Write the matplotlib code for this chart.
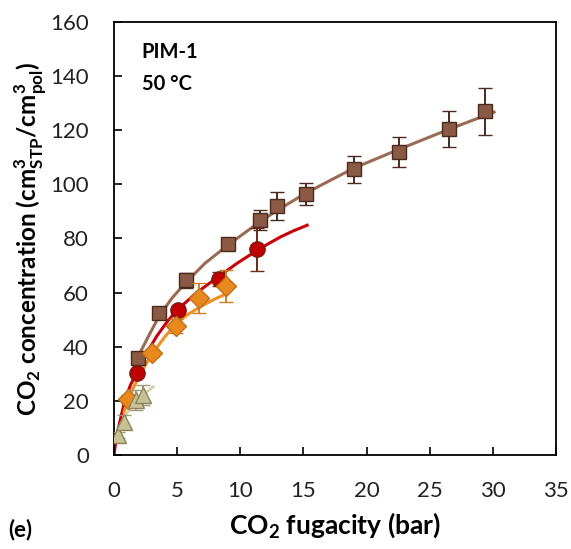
import matplotlib
matplotlib.use('Agg')
import matplotlib.pyplot as plt

plt.rcParams['font.family'] = ['Lato', 'DejaVu Sans']
plt.rcParams['mathtext.fontset'] = 'custom'
plt.rcParams['mathtext.rm'] = 'Lato'
plt.rcParams['mathtext.bf'] = 'Lato:bold'

# measured sorption points (fugacity in bar, concentration in cm3STP/cm3pol)
sq_x = [1.9, 3.6, 5.7, 9.0, 11.6, 12.9, 15.2, 19.0, 22.6, 26.5, 29.4]
sq_y = [36.0, 52.5, 64.5, 78.0, 87.0, 92.0, 96.5, 105.5, 112.0, 120.5, 127.0]
sq_err = [1.5, 1.5, 2.7, 2.0, 3.7, 5.0, 4.0, 5.0, 5.5, 6.7, 8.7]

ci_x = [1.8, 5.05, 8.3, 11.3]
ci_y = [30.3, 53.6, 65.0, 76.0]
ci_err = [1.0, 1.5, 2.7, 8.0]

di_x = [1.13, 3.04, 4.92, 6.75, 8.9]
di_y = [20.6, 37.6, 47.7, 57.9, 62.4]
di_err = [1.5, 1.5, 2.7, 5.5, 5.8]

tr_x = [0.34, 0.79, 1.72, 2.33]
tr_y = [7.4, 12.3, 20.3, 22.2]
tr_err = [1.0, 2.5, 3.7, 3.7]

# model fit lines
sq_fit_x = [1.6, 1.9, 2.8, 3.6, 4.6, 5.7, 7.2, 9.0, 11.6, 12.9, 15.2, 19.0, 22.6, 26.5, 30.1]
sq_fit_y = [33.0, 36.3, 44.5, 51.5, 58.0, 63.8, 70.8, 77.5, 86.3, 90.3, 96.8, 106.0, 113.0, 120.3, 126.7]
ci_fit_x = [0.0, 0.15, 0.4, 0.85, 1.3, 1.8, 2.5, 3.4, 4.2, 5.05, 6.5, 8.3, 9.8, 11.3, 12.2, 13.2, 14.2, 15.3]
ci_fit_y = [0.0, 5.0, 11.0, 20.0, 25.8, 30.5, 37.0, 44.0, 49.2, 53.8, 59.8, 66.0, 71.0, 75.5, 78.0, 80.6, 82.8, 84.9]
di_fit_x = [0.8, 1.13, 1.6, 2.2, 3.04, 4.0, 4.92, 5.8, 6.75, 7.8, 8.94]
di_fit_y = [16.0, 20.8, 25.5, 31.0, 37.5, 43.5, 48.5, 51.8, 54.5, 57.2, 59.7]
tr_fit_x = [0.3, 0.5, 0.8, 1.2, 1.7, 2.3, 3.1]
tr_fit_y = [9.0, 11.0, 13.8, 16.8, 19.6, 22.2, 25.2]

fig = plt.figure(figsize=(5.71, 5.49), dpi=100)
ax = fig.add_axes([0.1996, 0.1712, 0.7741, 0.7888])

# fit curves
ax.plot(sq_fit_x, sq_fit_y, color='#9a6a54', lw=2.2, zorder=2)
ax.plot(ci_fit_x, ci_fit_y, color='#c8000a', lw=2.2, zorder=2)
ax.plot(di_fit_x, di_fit_y, color='#f0901e', lw=2.2, zorder=2)
ax.plot(tr_fit_x, tr_fit_y, color='#d8d2a8', lw=2.2, zorder=2)

# data with error bars
ax.errorbar(sq_x, sq_y, yerr=sq_err, fmt='s', ms=10, mfc='#8b5a44', mec='#4a2a1a',
            mew=1.0, ecolor='#4a2a20', elinewidth=1.4, capsize=5, capthick=1.4, zorder=3)
ax.errorbar(ci_x, ci_y, yerr=ci_err, fmt='o', ms=11, mfc='#c00000', mec='#7a1a10',
            mew=1.0, ecolor='#6a2a18', elinewidth=1.4, capsize=5, capthick=1.4, zorder=4)
ax.errorbar(di_x, di_y, yerr=di_err, fmt='D', ms=10, mfc='#e8891e', mec='#c0701a',
            mew=1.0, ecolor='#d08020', elinewidth=1.4, capsize=5, capthick=1.4, zorder=5)
ax.errorbar(tr_x, tr_y, yerr=tr_err, fmt='^', ms=11, mfc='#c9c196', mec='#8a845a',
            mew=1.0, ecolor='#a09a70', elinewidth=1.4, capsize=5, capthick=1.4, zorder=6)

ax.set_xlim(0, 35)
ax.set_ylim(0, 160)
ax.set_xticks(range(0, 36, 5))
ax.set_yticks(range(0, 161, 20))
ax.tick_params(direction='in', length=6, width=1.2, labelsize=16, labelcolor='#222222',
               top=False, right=False)
ax.tick_params(axis='y', pad=18)
ax.tick_params(axis='x', pad=19)
for sp in ax.spines.values():
    sp.set_linewidth(1.3)
    sp.set_color('black')

ax.set_xlabel(r'CO$_\mathbf{2}$ fugacity (bar)', fontsize=19, fontweight='bold', labelpad=6)
ax.set_ylabel(r'CO$_\mathbf{2}$ concentration (cm$^\mathbf{3}_\mathbf{STP}$/cm$^\mathbf{3}_\mathbf{pol}$)',
              fontsize=17.5, fontweight='bold', labelpad=1)

ax.text(0.063, 0.93, 'PIM-1', transform=ax.transAxes, fontsize=14.5, fontweight='bold', va='center')
ax.text(0.063, 0.857, '50 °C', transform=ax.transAxes, fontsize=14.5, fontweight='bold', va='center')
fig.text(0.014, 0.036, '(e)', fontsize=16, fontweight='bold', va='center')

fig.savefig('out.png', dpi=100)
